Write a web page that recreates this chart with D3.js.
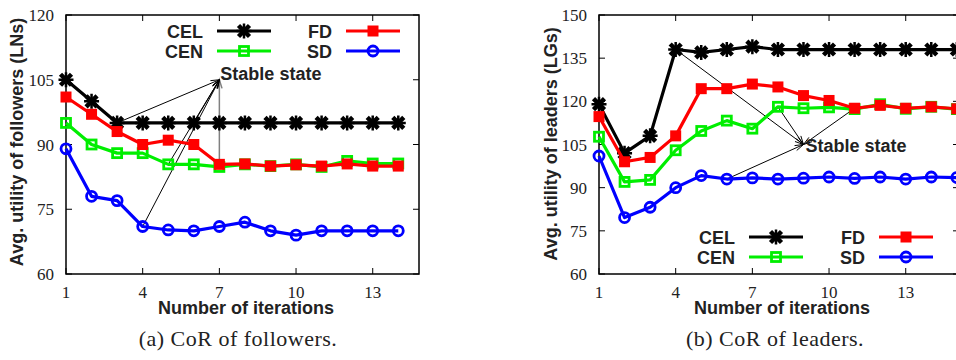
<!DOCTYPE html>
<html>
<head>
<meta charset="utf-8">
<script src="https://cdn.jsdelivr.net/npm/d3@7"></script>
<style>
  html, body { margin: 0; padding: 0; background: #fff; }
  svg { display: block; }
  .tick-lbl { font-family: "Liberation Serif", "DejaVu Serif", serif; font-size: 17px; fill: #222; }
  .lbl { font-family: "Liberation Sans", Arial, sans-serif; font-weight: bold; font-size: 18px; fill: #222; }
  .cap { font-family: "Liberation Serif", "DejaVu Serif", serif; font-size: 22px; letter-spacing: 0.5px; fill: #222; }
</style>
</head>
<body>
<svg id="chart" width="956" height="360"></svg>
<script>
// ---- data ----
const seriesNames = ["CEL", "CEN", "FD", "SD"];
const xTicks = [1, 4, 7, 10, 13];

// (a) followers, 14 iterations
const folCEL = [105, 100, 95, 95, 95, 95, 95, 95, 95, 95, 95, 95, 95, 95];
const folFD  = [101, 97, 93, 90, 91, 90, 85.4, 85.5, 85, 85.3, 85, 85.5, 85, 85];
const folCEN = [95, 90, 88, 88, 85.4, 85.4, 84.8, 85.4, 85, 85.4, 84.8, 86.2, 85.6, 85.6];
const folSD  = [89, 78, 77, 71, 70.2, 70, 71, 72, 70, 69, 70, 70, 70, 70];
const folYTicks = [60, 75, 90, 105, 120];

// (b) leaders, 15 iterations
const ldrCEL = [119, 102, 108, 138, 137, 138, 139, 138, 138, 138, 138, 138, 138, 138, 138];
const ldrFD  = [114.7, 99, 100.5, 108, 124.4, 124.4, 126, 125, 122, 120.3, 117.6, 118.6, 117.6, 118.1, 117.4];
const ldrCEN = [107.7, 92, 92.7, 103, 109.7, 113.3, 110.5, 118.1, 117.6, 117.9, 117.3, 119, 117.4, 118.1, 117.3];
const ldrSD  = [101, 79.6, 83.2, 90, 94.2, 93, 93.4, 93, 93.3, 93.7, 93.2, 93.7, 93, 93.7, 93.5];
const ldrYTicks = [60, 75, 90, 105, 120, 135, 150];

// stable-state annotations: [x, y] start points, tip, vertical gray line start
const folArrowFrom = [[3, 95], [6, 95], [5, 85.4], [4, 71]];
const folArrowTip = [7, 105];
const folGrayFrom = [7, 85.4];
const ldrArrowFrom = [[4, 138], [8, 118.1], [11, 117.6], [6, 93]];
const ldrArrowTip = [9, 105];

const colors = { CEL: "#000000", CEN: "#00ee00", FD: "#ff0000", SD: "#0000ff" };

const svg = d3.select("#chart");

function marker(g, name, x, y) {
  const c = colors[name];
  if (name === "CEL") {
    g.append("path")
      .attr("d", `M${x-5.5},${y-5.5}L${x+5.5},${y+5.5}M${x-5.5},${y+5.5}L${x+5.5},${y-5.5}`)
      .attr("stroke", c).attr("stroke-width", 4.5).attr("fill", "none");
    g.append("path")
      .attr("d", `M${x-7.5},${y}L${x+7.5},${y}M${x},${y-7.5}L${x},${y+7.5}`)
      .attr("stroke", c).attr("stroke-width", 2.5).attr("fill", "none");
  } else if (name === "FD") {
    g.append("rect").attr("x", x - 5.5).attr("y", y - 5.5).attr("width", 11).attr("height", 11).attr("fill", c);
  } else if (name === "CEN") {
    g.append("rect").attr("x", x - 4.5).attr("y", y - 4.5).attr("width", 9).attr("height", 9)
      .attr("fill", "none").attr("stroke", c).attr("stroke-width", 2.8);
  } else {
    g.append("circle").attr("cx", x).attr("cy", y).attr("r", 5)
      .attr("fill", "none").attr("stroke", c).attr("stroke-width", 2.8);
  }
}

function arrow(g, x1, y1, x2, y2, color, w) {
  g.append("line").attr("x1", x1).attr("y1", y1).attr("x2", x2).attr("y2", y2)
    .attr("stroke", color).attr("stroke-width", w);
  const a = Math.atan2(y2 - y1, x2 - x1), L = 9, s = 0.3;
  g.append("path")
    .attr("d", `M${x2 - L*Math.cos(a - s)},${y2 - L*Math.sin(a - s)}L${x2},${y2}L${x2 - L*Math.cos(a + s)},${y2 - L*Math.sin(a + s)}`)
    .attr("stroke", color).attr("stroke-width", w).attr("fill", "none");
}

function panel(cfg) {
  const x = d3.scaleLinear().domain(cfg.xDomain).range([cfg.left, cfg.right]);
  const y = d3.scaleLinear().domain([cfg.yTicks[0], cfg.yTicks[cfg.yTicks.length - 1]]).range([274, 15]);
  const g = svg.append("g");

  // frame
  g.append("rect").attr("x", cfg.left).attr("y", 15).attr("width", cfg.right - cfg.left).attr("height", 259)
    .attr("fill", "none").attr("stroke", "#000").attr("stroke-width", 1.5);

  // inward ticks on all sides
  const tl = 6;
  xTicks.forEach(t => {
    g.append("line").attr("x1", x(t)).attr("x2", x(t)).attr("y1", 274).attr("y2", 274 - tl).attr("stroke", "#000");
    g.append("line").attr("x1", x(t)).attr("x2", x(t)).attr("y1", 15).attr("y2", 15 + tl).attr("stroke", "#000");
    g.append("text").attr("class", "tick-lbl").attr("x", x(t)).attr("y", 298).attr("text-anchor", "middle").text(t);
  });
  cfg.yTicks.forEach(t => {
    g.append("line").attr("x1", cfg.left).attr("x2", cfg.left + tl).attr("y1", y(t)).attr("y2", y(t)).attr("stroke", "#000");
    g.append("line").attr("x1", cfg.right).attr("x2", cfg.right - tl).attr("y1", y(t)).attr("y2", y(t)).attr("stroke", "#000");
    g.append("text").attr("class", "tick-lbl").attr("x", cfg.left - 12).attr("y", y(t) + 6)
      .attr("text-anchor", "end").text(t);
  });

  // axis labels
  g.append("text").attr("class", "lbl").attr("x", cfg.xLabelX).attr("y", 314).attr("text-anchor", "middle")
    .text("Number of iterations");
  g.append("text").attr("class", "lbl").attr("text-anchor", "middle")
    .attr("transform", `translate(${cfg.yLabelX},${cfg.yLabelY}) rotate(-90)`).text(cfg.yLabel);
  g.append("text").attr("class", "cap").attr("x", cfg.capX).attr("y", 346).attr("text-anchor", "middle").text(cfg.caption);

  // annotations
  const [tx, ty] = cfg.tip;
  if (cfg.gray) arrow(g, x(cfg.gray[0]), y(cfg.gray[1]), x(tx), y(ty), "#808080", 1.5);
  cfg.from.forEach(p => arrow(g, x(p[0]), y(p[1]), x(tx), y(ty), "#000", 1));
  g.append("text").attr("class", "lbl")
    .attr("x", x(tx) + cfg.noteDx).attr("y", y(ty) + cfg.noteDy).text("Stable state");

  // series
  const line = d3.line().x((d, i) => x(i + 1)).y(d => y(d));
  seriesNames.forEach(n => {
    const vals = cfg.series[n];
    g.append("path").attr("d", line(vals)).attr("fill", "none")
      .attr("stroke", colors[n]).attr("stroke-width", 3.2).attr("stroke-linejoin", "round");
    vals.forEach((v, i) => marker(g, n, x(i + 1), y(v)));
  });

  // legend
  const lg = cfg.legend;
  const rows = [["CEL", "FD"], ["CEN", "SD"]];
  rows.forEach((row, r) => {
    const yy = lg.y + r * 20;
    row.forEach((n, c) => {
      const col = lg.cols[c];
      g.append("text").attr("class", "lbl")
        .attr("x", col.textRight).attr("y", yy + 6.5).attr("text-anchor", "end").text(n);
      g.append("line").attr("x1", col.lineX0).attr("x2", col.lineX0 + 54).attr("y1", yy).attr("y2", yy)
        .attr("stroke", colors[n]).attr("stroke-width", 3.2);
      marker(g, n, col.lineX0 + 27, yy);
    });
  });
}

panel({
  left: 66, right: 419, xDomain: [1, 1 + 353 / 25.56],
  yTicks: folYTicks,
  series: { CEL: folCEL, CEN: folCEN, FD: folFD, SD: folSD },
  yLabel: "Avg. utility of followers (LNs)", yLabelX: 23, yLabelY: 142,
  xLabelX: 246, caption: "(a) CoR of followers.", capX: 238,
  tip: folArrowTip, from: folArrowFrom, gray: folGrayFrom, noteDx: 1, noteDy: 0,
  legend: { y: 31, cols: [{ textRight: 203, lineX0: 217 }, { textRight: 332, lineX0: 346 }] }
});

panel({
  left: 599, right: 959, xDomain: [1, 1 + 360 / 25.56],
  yTicks: ldrYTicks,
  series: { CEL: ldrCEL, CEN: ldrCEN, FD: ldrFD, SD: ldrSD },
  yLabel: "Avg. utility of leaders (LGs)", yLabelX: 557, yLabelY: 144,
  xLabelX: 782, caption: "(b) CoR of leaders.", capX: 775,
  tip: ldrArrowTip, from: ldrArrowFrom, gray: null, noteDx: 2, noteDy: 7,
  legend: { y: 237, cols: [{ textRight: 735, lineX0: 749 }, { textRight: 865, lineX0: 879 }] }
});
</script>
</body>
</html>
